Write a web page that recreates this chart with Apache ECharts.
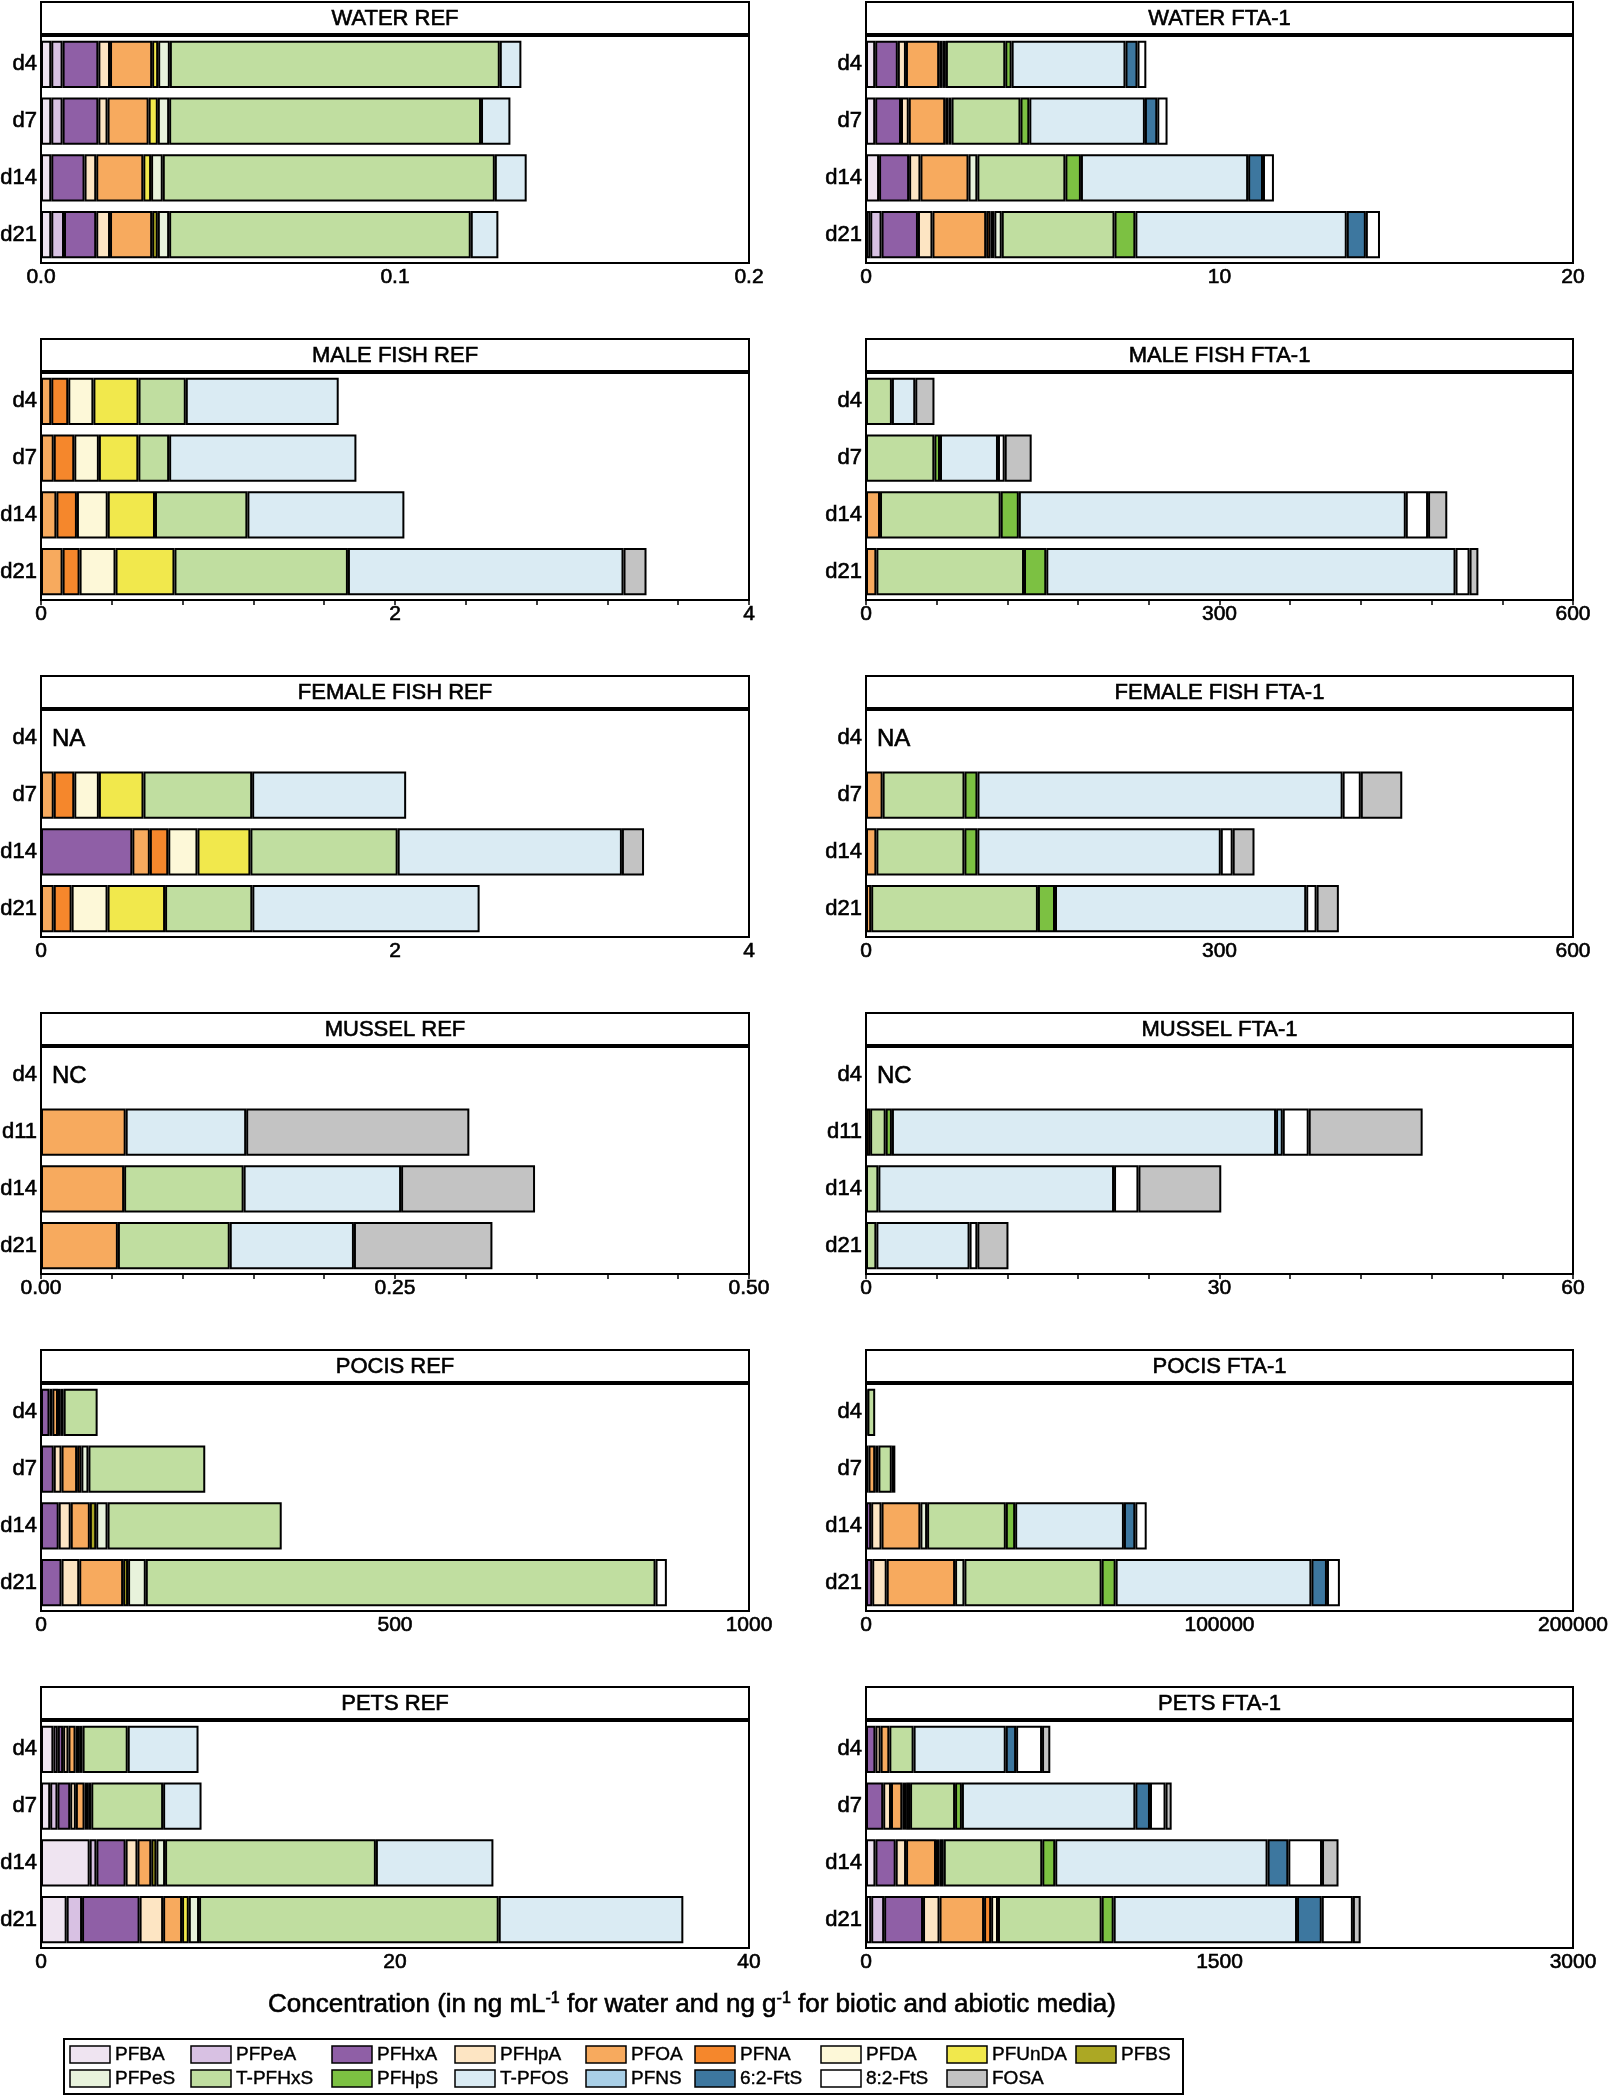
<!DOCTYPE html>
<html><head><meta charset="utf-8">
<script src="https://cdn.jsdelivr.net/npm/echarts@6/dist/echarts.min.js"></script>
<style>html,body{margin:0;padding:0;background:#fff}#c{width:1610px;height:2100px}</style>
</head><body><div id="c"></div>
<script>
const _ = null;
const compounds = ['PFBA','PFPeA','PFHxA','PFHpA','PFOA','PFNA','PFDA','PFUnDA','PFBS','PFPeS','T-PFHxS','PFHpS','T-PFOS','PFNS','6:2-FtS','8:2-FtS','FOSA'];
const compoundColors = ['#efe4f1','#d8c1e3','#8f5fa6','#fde5c3','#f7aa5e','#f5872c','#fdf8d8','#f1e84c','#aca824','#e8f3dc','#c0dea0','#7cc142','#daebf3','#a9cfe6','#3d779f','#ffffff','#c3c3c3'];
const daysStd = ['d4','d7','d14','d21'];
const daysMussel = ['d4','d11','d14','d21'];

// values per row, in compound order
const waterRef = [
  [0.0029,0.0032,0.0101,0.0033,0.0119,_,_,0.0017,_,0.0033,0.0932,_,0.0061,_,_,_,_],
  [0.0029,0.0032,0.0101,0.0026,0.0116,_,_,0.0026,_,0.0032,0.0881,_,0.0083,_,_,_,_],
  [0.0029,_,0.0094,0.0033,0.0133,_,_,0.0022,_,0.0033,0.0938,_,0.0090,_,_,_,_],
  [0.0029,0.0036,0.0091,0.0039,0.0119,_,_,_,0.0016,0.0032,0.0852,_,0.0078,_,_,_,_]
];
const waterFta = [
  [0.26,_,0.64,0.23,0.94,0.10,0.09,_,_,_,1.68,0.18,3.22,_,0.34,0.25,_],
  [0.26,_,0.73,0.22,1.03,0.09,0.09,_,_,_,1.95,0.25,3.27,_,0.35,0.29,_],
  [0.37,_,0.85,0.32,1.36,_,_,_,_,0.25,2.49,0.44,4.73,_,0.42,0.31,_],
  [0.12,0.32,1.03,0.41,1.52,0.12,0.11,_,_,0.21,3.19,0.59,5.98,_,0.54,0.40,_]
];
const maleRef = [
  [_,_,_,_,0.058,0.096,0.142,0.255,_,_,0.267,_,0.864,_,_,_,_],
  [_,_,_,_,0.072,0.116,0.139,0.223,_,_,0.174,_,1.058,_,_,_,_],
  [_,_,_,_,0.087,0.116,0.174,0.267,_,_,0.522,_,0.887,_,_,_,_],
  [_,_,_,_,0.122,0.096,0.203,0.333,_,_,0.980,_,1.557,_,_,_,0.130]
];
const maleFta = [
  [_,_,_,_,_,_,_,_,_,_,22,_,19.8,_,_,_,16.3],
  [_,_,_,_,_,_,_,_,_,_,58,4.8,49.2,_,_,5.7,22.9],
  [_,_,_,_,11.9,_,_,_,_,_,102.4,15.4,328.4,_,_,18.9,16.3],
  [_,_,_,_,8.8,_,_,_,_,_,125.3,18.9,347.3,_,_,11.9,7.5]
];
const femaleRef = [
  [_,_,_,_,_,_,_,_,_,_,_,_,_,_,_,_,_],
  [_,_,_,_,0.072,0.116,0.139,0.252,_,_,0.614,_,0.870,_,_,_,_],
  [_,_,0.516,_,0.099,0.104,0.165,0.299,_,_,0.832,_,1.267,_,_,_,0.125],
  [_,_,_,_,0.072,0.101,0.203,0.325,_,_,0.493,_,1.284,_,_,_,_]
];
const femaleFta = [
  [_,_,_,_,_,_,_,_,_,_,_,_,_,_,_,_,_],
  [_,_,_,_,14.1,_,_,_,_,_,69.5,11.0,309.9,_,_,15.4,35.2],
  [_,_,_,_,8.8,_,_,_,_,_,74.7,11.0,206.6,_,_,10.1,18.5],
  [_,_,_,_,4.4,_,_,_,_,_,141.5,14.5,213.2,_,_,8.8,18.9]
];
const musselRef = [
  [_,_,_,_,_,_,_,_,_,_,_,_,_,_,_,_,_],
  [_,_,_,_,0.0598,_,_,_,_,_,_,_,0.0851,_,_,_,0.1576],
  [_,_,_,_,0.0587,_,_,_,_,_,0.0844,_,0.1112,_,_,_,0.0946],
  [_,_,_,_,0.0543,_,_,_,_,_,0.0790,_,0.0877,_,_,_,0.0978]
];
const musselFta = [
  [_,_,_,_,_,_,_,_,_,_,_,_,_,_,_,_,_],
  [_,_,_,_,0.35,_,_,_,_,_,1.32,0.53,32.6,0.57,_,2.2,9.67],
  [_,_,_,_,_,_,_,_,_,_,1.05,_,20.0,_,_,2.07,7.03],
  [_,_,_,_,_,_,_,_,_,_,0.88,_,7.91,_,_,0.66,2.64]
];
const pocisRef = [
  [_,_,12,4,8,4,4,_,_,_,48,_,_,_,_,_,_],
  [_,_,18,11,22,6,_,_,_,10,165,_,_,_,_,_,_],
  [_,_,25,17,27,_,_,_,9,16,246,_,_,_,_,_,_],
  [_,_,29,25,62,_,_,_,7,25,720,_,_,_,_,16,_]
];
const pocisFta = [
  [_,_,_,_,400,_,_,_,_,_,2200,_,_,_,_,_,_],
  [700,_,_,_,1900,900,_,_,_,_,3800,1000,_,_,_,_,_],
  [_,_,1465,2930,10990,_,_,_,_,1900,22270,2640,30770,_,3220,3220,_],
  [_,_,1760,4100,19340,_,_,_,_,2640,38820,3960,55380,_,4400,3660,_]
];
const petsRef = [
  [0.7,0.25,0.3,0.3,0.4,0.2,0.2,_,_,_,2.55,_,4.0,_,_,_,_],
  [0.52,0.41,0.72,0.32,0.49,0.2,0.18,_,_,_,4.06,_,2.17,_,_,_,_],
  [2.75,0.38,1.65,0.67,0.78,_,_,_,0.29,0.49,11.91,_,6.64,_,_,_,_],
  [1.45,0.87,3.25,1.33,1.07,_,_,0.38,_,0.58,16.93,_,10.43,_,_,_,_]
];
const petsFta = [
  [_,_,40,22,37,_,_,_,_,_,103,_,391,_,44,110,35],
  [_,_,73,33,48,16,17,_,_,_,191,29,736,_,62,66,26],
  [40,_,86,44,127,16,17,_,_,_,418,55,901,_,88,143,70],
  [22,55,165,70,189,30,29,_,_,_,440,51,778,_,105,132,33]
];

const panels = [
  {title:'WATER REF', data:waterRef, days:daysStd, max:0.2, ticks:['0.0','0.1','0.2']},
  {title:'WATER FTA-1', data:waterFta, days:daysStd, max:20, ticks:['0','10','20']},
  {title:'MALE FISH REF', data:maleRef, days:daysStd, max:4, ticks:['0','2','4'], minor:true},
  {title:'MALE FISH FTA-1', data:maleFta, days:daysStd, max:600, ticks:['0','300','600'], minor:true},
  {title:'FEMALE FISH REF', data:femaleRef, days:daysStd, max:4, ticks:['0','2','4'], note:'NA'},
  {title:'FEMALE FISH FTA-1', data:femaleFta, days:daysStd, max:600, ticks:['0','300','600'], note:'NA'},
  {title:'MUSSEL REF', data:musselRef, days:daysMussel, max:0.5, ticks:['0.00','0.25','0.50'], minor:true, note:'NC'},
  {title:'MUSSEL FTA-1', data:musselFta, days:daysMussel, max:60, ticks:['0','30','60'], minor:true, note:'NC'},
  {title:'POCIS REF', data:pocisRef, days:daysStd, max:1000, ticks:['0','500','1000']},
  {title:'POCIS FTA-1', data:pocisFta, days:daysStd, max:200000, ticks:['0','100000','200000']},
  {title:'PETS REF', data:petsRef, days:daysStd, max:40, ticks:['0','20','40']},
  {title:'PETS FTA-1', data:petsFta, days:daysStd, max:3000, ticks:['0','1500','3000']}
];

const FONT = "'Liberation Sans', Arial, Helvetica, sans-serif";
const TB = 0.6; // slight text stroke to match the heavier print weight
const colLeft = [41, 866], plotW = [708, 707];
const rowTop0 = 2, rowPitch = 337, titleH = 32, plotOffset = 34, plotH = 227;

const grids = [], xAxes = [], yAxes = [], series = [], graphics = [];
panels.forEach((p, i) => {
  const col = i % 2, row = Math.floor(i / 2);
  const left = colLeft[col], w = plotW[col];
  const rTop = rowTop0 + row * rowPitch;
  const top = rTop + plotOffset;
  grids.push({left, top, width: w, height: plotH, show: true, borderColor: '#000', borderWidth: 2,
    backgroundColor: '#fff', containLabel: false, outerBoundsMode: 'none'});
  xAxes.push({type: 'value', gridIndex: i, min: 0, max: p.max, interval: p.max / 2,
    axisLine: {show: false}, splitLine: {show: false},
    axisTick: {show: !!p.minor, length: 5, lineStyle: {color: '#000', width: 1.5}},
    minorTick: {show: !!p.minor, splitNumber: 5, length: 5, lineStyle: {color: '#000', width: 1.5}},
    axisLabel: {fontSize: 21, color: '#000', fontFamily: FONT, margin: 4,
      textBorderColor: '#000', textBorderWidth: TB,
      formatter: (v, idx) => p.ticks[idx] != null ? p.ticks[idx] : ''}});
  yAxes.push({type: 'category', gridIndex: i, data: p.days, inverse: true,
    axisLine: {show: false}, axisTick: {show: false},
    axisLabel: {fontSize: 22, color: '#000', fontFamily: FONT, margin: 4,
      textBorderColor: '#000', textBorderWidth: TB}});
  compounds.forEach((c, k) => {
    const vals = p.data.map(r => r[k]);
    if (vals.every(v => v == null)) return;
    series.push({type: 'bar', name: c, xAxisIndex: i, yAxisIndex: i, stack: 'p' + i,
      data: vals, barCategoryGap: '17%', silent: true,
      itemStyle: {color: compoundColors[k], borderColor: '#000', borderWidth: 2},
      emphasis: {disabled: true}});
  });
  // title box
  graphics.push({type: 'rect', shape: {x: left, y: rTop, width: w, height: titleH},
    style: {fill: '#fff', stroke: '#000', lineWidth: 2}, silent: true});
  graphics.push({type: 'text', x: left + w / 2, y: rTop + titleH / 2 + 1, silent: true,
    style: {text: p.title, fontSize: 22, fontFamily: FONT, fill: '#000', stroke: '#000', lineWidth: TB,
      align: 'center', verticalAlign: 'middle', textAlign: 'center', textVerticalAlign: 'middle'}});
  if (p.note) {
    graphics.push({type: 'text', x: left + 11, y: top + plotH / 8 + 1, silent: true,
      style: {text: p.note, fontSize: 24, fontFamily: FONT, fill: '#000', stroke: '#000', lineWidth: TB,
        align: 'left', verticalAlign: 'middle', textAlign: 'left', textVerticalAlign: 'middle'}});
  }
});

// axis title
graphics.push({type: 'text', x: 692, y: 2005, silent: true,
  style: {text: 'Concentration (in ng mL{sup|-1} for water and ng g{sup|-1} for biotic and abiotic media)',
    fontSize: 26, fontFamily: FONT, fill: '#000', stroke: '#000', lineWidth: TB,
    align: 'center', verticalAlign: 'middle', textAlign: 'center', textVerticalAlign: 'middle',
    rich: {sup: {fontSize: 16, fontFamily: FONT, fill: '#000', verticalAlign: 'top', padding: [0, 0, 12, 0]}}}});

// legend (two rows, nine aligned columns)
graphics.push({type: 'rect', shape: {x: 64, y: 2039, width: 1119, height: 55},
  style: {fill: '#fff', stroke: '#000', lineWidth: 2}, silent: true});
const legendColX = [70, 191, 332, 455, 586, 695, 821, 947, 1076];
const legendRowY = [2046, 2070];
compounds.forEach((c, k) => {
  const r = k < 9 ? 0 : 1, cc = k < 9 ? k : k - 9;
  const x = legendColX[cc], y = legendRowY[r];
  graphics.push({type: 'rect', shape: {x, y, width: 40, height: 17},
    style: {fill: compoundColors[k], stroke: '#000', lineWidth: 1.5}, silent: true});
  graphics.push({type: 'text', x: x + 45, y: y + 9, silent: true,
    style: {text: c, fontSize: 19, fontFamily: FONT, fill: '#000', stroke: '#000', lineWidth: 0.4,
      align: 'left', verticalAlign: 'middle', textAlign: 'left', textVerticalAlign: 'middle'}});
});

const chart = echarts.init(document.getElementById('c'), null, {renderer: 'canvas'});
chart.setOption({
  animation: false,
  backgroundColor: '#fff',
  grid: grids, xAxis: xAxes, yAxis: yAxes, series,
  graphic: graphics
});
</script></body></html>
